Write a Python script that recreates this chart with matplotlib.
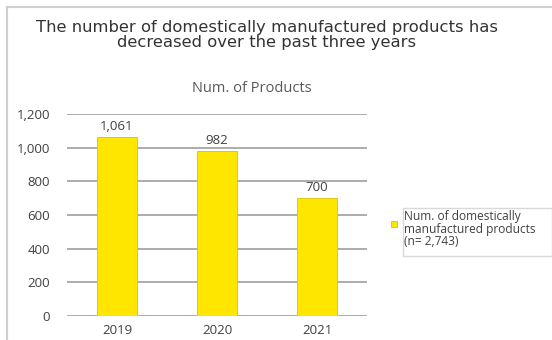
import matplotlib
matplotlib.use("Agg")
import matplotlib.pyplot as plt
from matplotlib.patches import Rectangle
from matplotlib.lines import Line2D

plt.rcParams['font.family'] = ['Open Sans', 'DejaVu Sans']

years = ["2019", "2020", "2021"]
products = [1061, 982, 700]
y_ticks = [0, 200, 400, 600, 800, 1000, 1200]
title = "The number of domestically manufactured products has\ndecreased over the past three years"
subtitle = "Num. of Products"
legend_label = "Num. of domestically\nmanufactured products\n(n= 2,743)"

W, H = 552, 340
fig = plt.figure(figsize=(W / 100, H / 100), dpi=100)
fig.patch.set_facecolor("white")

# outer frame (top and left edges visible)
fig.add_artist(Line2D([7 / W, 1], [1 - 7 / H, 1 - 7 / H], color="#d0d0d0", lw=1.5,
                      transform=fig.transFigure))
fig.add_artist(Line2D([7 / W, 7 / W], [0, 1 - 7 / H], color="#d0d0d0", lw=1.5,
                      transform=fig.transFigure))

ax = fig.add_axes([67 / W, (H - 316) / H, 300 / W, (316 - 114) / H])
x = list(range(len(years)))
bars = ax.bar(x, products, width=0.4, color="#FFE600", edgecolor="#d8c300",
              linewidth=0.6, zorder=3)
ax.set_xlim(-0.5, len(years) - 0.5)
ax.set_ylim(0, 1200)
ax.set_yticks(y_ticks)
ax.set_yticklabels([f"{v:,}" for v in y_ticks])
ax.set_xticks(x)
ax.set_xticklabels(years)
ax.grid(axis="y", color="#a6a6a6", lw=1.3, zorder=0)
ax.set_axisbelow(True)
for s in ax.spines.values():
    s.set_visible(False)
ax.tick_params(axis="both", length=0, labelsize=9.5, colors="#404040")
ax.tick_params(axis="y", pad=12)
ax.tick_params(axis="x", pad=6)

for xi, v in zip(x, products):
    ax.annotate(f"{v:,}", (xi, v), xytext=(0, 3), textcoords="offset points",
                ha="center", va="bottom", fontsize=9.5, color="#404040")

fig.text(267 / W, 1 - 35 / H, title, ha="center", va="center", fontsize=11.8,
         color="#333333", linespacing=0.98, family="DejaVu Sans")
fig.text(252 / W, 1 - 88 / H, subtitle, ha="center", va="center", fontsize=10.5,
         color="#595959")

# legend
fig.add_artist(Rectangle((391 / W, 1 - 227 / H), 6 / W, 6 / H, facecolor="#FFE600",
                         edgecolor="#d8c300", lw=0.6, transform=fig.transFigure))
fig.add_artist(Rectangle((403 / W, 1 - 256 / H), (W - 403) / W, 48 / H, facecolor="none",
                         edgecolor="#d9d9d9", lw=1.0, transform=fig.transFigure))
fig.text(404 / W, 1 - 229 / H, legend_label, ha="left", va="center", fontsize=8.6,
         color="#404040", linespacing=0.92)

fig.savefig("out.png", dpi=100)
